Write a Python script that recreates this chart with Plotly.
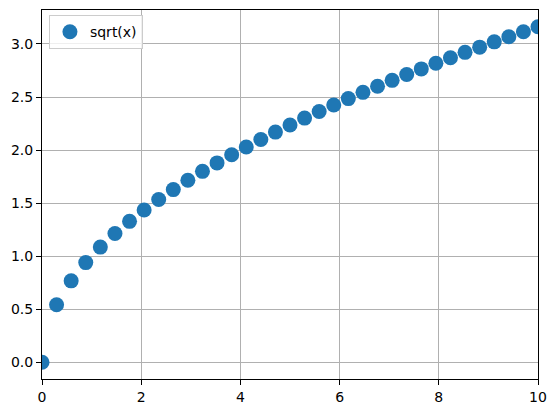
import plotly.graph_objects as go

x_vals = [0.0, 0.294, 0.588, 0.882, 1.176, 1.471, 1.765, 2.059, 2.353, 2.647,
          2.941, 3.235, 3.529, 3.824, 4.118, 4.412, 4.706, 5.0, 5.294, 5.588,
          5.882, 6.176, 6.471, 6.765, 7.059, 7.353, 7.647, 7.941, 8.235, 8.529,
          8.824, 9.118, 9.412, 9.706, 10.0]
y_vals = [0.0, 0.542, 0.767, 0.939, 1.085, 1.213, 1.328, 1.435, 1.534, 1.627,
          1.715, 1.799, 1.879, 1.955, 2.029, 2.100, 2.169, 2.236, 2.301, 2.364,
          2.425, 2.485, 2.544, 2.601, 2.657, 2.712, 2.765, 2.818, 2.870, 2.921,
          2.970, 3.020, 3.068, 3.115, 3.162]
series_name = "sqrt(x)"

fig = go.Figure()
fig.add_trace(go.Scatter(
    x=x_vals, y=y_vals, mode="markers", name=series_name,
    marker=dict(size=15, color="#1f77b4", line=dict(width=0)),
    cliponaxis=True,
))

axis_common = dict(
    showline=True, linecolor="black", linewidth=1, mirror=True,
    ticks="outside", ticklen=5, tickwidth=1, tickcolor="black",
    showgrid=True, gridcolor="#b0b0b0", gridwidth=1,
    zeroline=False,
    tickfont=dict(family="DejaVu Sans", size=14, color="black"),
)

fig.update_xaxes(range=[0, 10], dtick=2, tick0=0, **axis_common)
fig.update_yaxes(range=[-0.158, 3.32], dtick=0.5, tick0=0, tickformat=".1f", **axis_common)

fig.update_layout(
    width=556, height=413,
    margin=dict(l=42, r=18, t=10, b=34, autoexpand=False),
    plot_bgcolor="white", paper_bgcolor="white",
    showlegend=True,
    legend=dict(
        x=0.014, y=0.986, xanchor="left", yanchor="top",
        bgcolor="rgba(255,255,255,0.8)", bordercolor="#cccccc", borderwidth=1,
        font=dict(family="DejaVu Sans", size=14, color="black"),
    ),
)

fig.write_html("out.html", config={"displayModeBar": False},
               post_script="document.body.style.margin='0';")
